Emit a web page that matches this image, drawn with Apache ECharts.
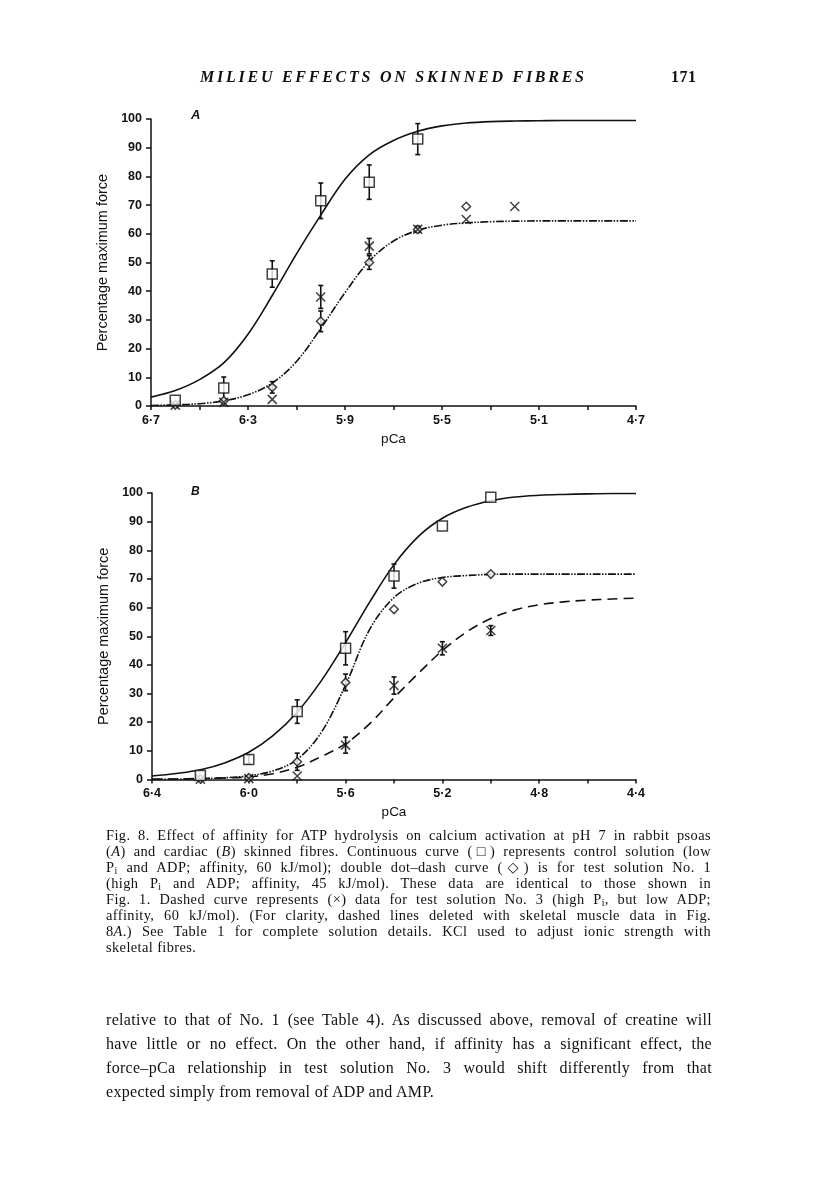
<!DOCTYPE html>
<html>
<head>
<meta charset="utf-8">
<script src="https://cdn.jsdelivr.net/npm/echarts@6/dist/echarts.min.js"></script>
<style>
  html, body { margin:0; padding:0; background:#fff; }
  #page { position:relative; width:816px; height:1183px; overflow:hidden; }
  #chart { position:absolute; left:0; top:0; width:816px; height:1183px; }
  .txt { position:absolute; color:#111; font-family:"Liberation Serif","DejaVu Serif",serif; }
  .hdr { top:68px; font-size:16px; font-weight:bold; font-style:italic; letter-spacing:2.75px; white-space:nowrap; }
  .num { top:68px; left:671px; font-size:16px; font-weight:bold; letter-spacing:0.5px; }
  .cap { left:106px; width:605px; font-size:14.4px; letter-spacing:0.4px; line-height:16px; top:827px; }
  .cap div, .body div { text-align:justify; text-align-last:justify; white-space:nowrap; }
  .cap div.last, .body div.last { text-align-last:left; }
  .body { left:106px; width:606px; font-size:16px; letter-spacing:0.3px; line-height:24px; top:1008px; }
  sub { font-size:70%; vertical-align:-2px; line-height:0; }
</style>
</head>
<body>
<div id="page">
  <div id="chart"></div>
  <div class="txt hdr" style="left:200px;">MILIEU EFFECTS ON SKINNED FIBRES</div>
  <div class="txt num">171</div>
  <div class="txt cap">
    <div>Fig. 8. Effect of affinity for ATP hydrolysis on calcium activation at pH 7 in rabbit psoas</div>
    <div>(<i>A</i>) and cardiac (<i>B</i>) skinned fibres. Continuous curve (&#9633;) represents control solution (low</div>
    <div>P<sub>i</sub> and ADP; affinity, 60 kJ/mol); double dot&ndash;dash curve (&#9671;) is for test solution No. 1</div>
    <div>(high P<sub>i</sub> and ADP; affinity, 45 kJ/mol). These data are identical to those shown in</div>
    <div>Fig. 1. Dashed curve represents (&times;) data for test solution No. 3 (high P<sub>i</sub>, but low ADP;</div>
    <div>affinity, 60 kJ/mol). (For clarity, dashed lines deleted with skeletal muscle data in Fig.</div>
    <div>8<i>A</i>.) See Table 1 for complete solution details. KCl used to adjust ionic strength with</div>
    <div class="last">skeletal fibres.</div>
  </div>
  <div class="txt body">
    <div>relative to that of No. 1 (see Table 4). As discussed above, removal of creatine will</div>
    <div>have little or no effect. On the other hand, if affinity has a significant effect, the</div>
    <div>force&ndash;pCa relationship in test solution No. 3 would shift differently from that</div>
    <div class="last">expected simply from removal of ADP and AMP.</div>
  </div>
</div>
<script>
// ---------- Tick labels ----------
const xTickLabelsA = ['6\u00b77', '6\u00b73', '5\u00b79', '5\u00b75', '5\u00b71', '4\u00b77'];
const xTickLabelsB = ['6\u00b74', '6\u00b70', '5\u00b76', '5\u00b72', '4\u00b78', '4\u00b74'];
const pcaStartA = 6.7;
const pcaStartB = 6.4;

// ---------- Panel A: fitted curves (pCa, % force) ----------
const curvePcaA = [6.7, 6.6, 6.5, 6.4, 6.3, 6.2, 6.1, 6.0, 5.9, 5.8, 5.7, 5.6, 5.5, 5.4, 5.3, 5.2, 5.1, 5.0, 4.9, 4.8, 4.7];
const controlCurveA = [3.1, 5.4, 9.2, 15.0, 25.0, 38.5, 53.0, 66.5, 79.0, 87.5, 92.5, 95.7, 97.6, 98.6, 99.1, 99.3, 99.4, 99.5, 99.5, 99.5, 99.5];
const diamondCurveA = [0.2, 0.4, 0.8, 1.8, 3.9, 8.0, 15.5, 27.0, 39.5, 50.5, 57.5, 61.2, 63.0, 63.8, 64.2, 64.4, 64.5, 64.5, 64.5, 64.5, 64.5];

// ---------- Panel A: data points ----------
const squarePcaA = [6.6, 6.4, 6.2, 6.0, 5.8, 5.6];
const squareValA = [2.0, 6.3, 46.0, 71.5, 78.0, 93.0];
const squareErrA = [0, 3.8, 4.6, 6.2, 6.0, 5.4];

const diamondPcaA = [6.6, 6.4, 6.2, 6.0, 5.8, 5.6, 5.4];
const diamondValA = [0.4, 1.8, 6.5, 29.5, 50.0, 61.5, 69.5];
const diamondErrA = [0, 0, 2.0, 3.6, 2.4, 1.0, 0];

const crossPcaA = [6.6, 6.4, 6.2, 6.0, 5.8, 5.6, 5.4, 5.2];
const crossValA = [0.3, 1.3, 2.3, 38.0, 55.7, 61.6, 65.0, 69.5];
const crossErrA = [0, 0, 0, 4.0, 2.7, 1.0, 0, 0];

// ---------- Panel B: fitted curves ----------
const curvePcaB = [6.4, 6.3, 6.2, 6.1, 6.0, 5.9, 5.8, 5.7, 5.6, 5.5, 5.4, 5.3, 5.2, 5.1, 5.0, 4.9, 4.8, 4.7, 4.6, 4.5, 4.4];
const controlCurveB = [1.2, 2.1, 3.4, 5.8, 9.5, 15.3, 23.5, 34.5, 47.8, 62.0, 75.0, 84.8, 91.2, 95.0, 97.3, 98.6, 99.2, 99.5, 99.7, 99.8, 99.8];
const diamondCurveB = [0.05, 0.1, 0.3, 0.6, 1.3, 3.0, 7.0, 16.5, 33.0, 52.5, 63.5, 68.5, 70.5, 71.2, 71.6, 71.7, 71.7, 71.7, 71.7, 71.7, 71.7];
const dashedCurveB = [0.1, 0.2, 0.35, 0.55, 0.9, 2.0, 4.3, 8.0, 12.5, 19.5, 28.5, 37.0, 45.0, 51.5, 56.2, 59.2, 61.0, 62.0, 62.6, 63.0, 63.3];

// ---------- Panel B: data points ----------
const squarePcaB = [6.2, 6.0, 5.8, 5.6, 5.4, 5.2, 5.0];
const squareValB = [1.4, 7.0, 23.7, 45.8, 71.0, 88.5, 98.5];
const squareErrB = [0, 1.5, 4.1, 5.8, 4.2, 0, 0];

const diamondPcaB = [6.2, 6.0, 5.8, 5.6, 5.4, 5.2, 5.0];
const diamondValB = [0.2, 0.6, 6.2, 33.9, 59.4, 69.0, 71.7];
const diamondErrB = [0, 0, 3.0, 2.9, 0, 0, 0];

const crossPcaB = [6.2, 6.0, 5.8, 5.6, 5.4, 5.2, 5.0];
const crossValB = [0.1, 0.3, 1.2, 12.0, 32.8, 45.8, 52.0];
const crossErrB = [0, 0, 0, 2.8, 3.0, 2.3, 1.7];

const yTicks = [0, 10, 20, 30, 40, 50, 60, 70, 80, 90, 100];

// ---------- helpers ----------
function toU(p, start) { return Math.round((start - p) * 10 * 1000) / 1000; }
function pairs(ps, vs, start) { return ps.map((p, i) => [toU(p, start), vs[i]]); }
function errs(ps, vs, es, start) {
  const out = [];
  ps.forEach((p, i) => { if (es[i] > 0) out.push([toU(p, start), vs[i] - es[i], vs[i] + es[i]]); });
  return out;
}
function errItem(params, api) {
  const x = api.value(0);
  const lo = api.coord([x, api.value(1)]);
  const hi = api.coord([x, api.value(2)]);
  const w = 2.5;
  const st = { stroke: '#111', lineWidth: 1.6 };
  return { type: 'group', children: [
    { type: 'line', shape: { x1: lo[0], y1: lo[1], x2: hi[0], y2: hi[1] }, style: st },
    { type: 'line', shape: { x1: hi[0] - w, y1: hi[1], x2: hi[0] + w, y2: hi[1] }, style: st },
    { type: 'line', shape: { x1: lo[0] - w, y1: lo[1], x2: lo[0] + w, y2: lo[1] }, style: st }
  ]};
}

const SANS = 'Liberation Sans, Arial, sans-serif';
function xAxisDef(idx, labels) {
  return {
    type: 'value', gridIndex: idx, min: 0, max: 20, interval: 2,
    axisLine: { show: true, onZero: false, lineStyle: { color: '#111', width: 1.5 } },
    axisTick: { show: true, inside: false, length: 4, lineStyle: { color: '#111', width: 1.5 } },
    axisLabel: { color: '#111', fontFamily: SANS, fontWeight: 'bold', fontSize: 12.5, margin: 8,
      showMinLabel: true, showMaxLabel: true,
      formatter: v => (Math.round(v) % 4 === 0 ? labels[Math.round(v) / 4] : '') },
    splitLine: { show: false },
    name: 'pCa', nameLocation: 'middle', nameGap: 26,
    nameTextStyle: { color: '#111', fontFamily: SANS, fontSize: 13.5 }
  };
}
function yAxisDef(idx) {
  return {
    type: 'value', gridIndex: idx, min: yTicks[0], max: yTicks[yTicks.length - 1], interval: 10,
    axisLine: { show: true, lineStyle: { color: '#111', width: 1.5 } },
    axisTick: { show: true, inside: false, length: 5, lineStyle: { color: '#111', width: 1.5 } },
    axisLabel: { color: '#111', fontFamily: SANS, fontWeight: 'bold', fontSize: 12.5, margin: 9 },
    splitLine: { show: false },
    name: 'Percentage maximum force', nameLocation: 'middle', nameGap: 37, nameRotate: 90,
    nameTextStyle: { color: '#111', fontFamily: SANS, fontSize: 14.5 }
  };
}

const SQUARE = 'rect';
const DIAMOND = 'path://M5,0L10,5L5,10L0,5Z';
const CROSS = 'path://M0,0L10,10M10,0L0,10';
const hollow = { color: '#fff', borderColor: '#111', borderWidth: 1.5 };
const crossStyle = { color: 'transparent', borderColor: '#111', borderWidth: 1.5 };

function curve(idx, ps, vs, start, type) {
  return { type: 'line', xAxisIndex: idx, yAxisIndex: idx, data: pairs(ps, vs, start),
    smooth: 0.35, showSymbol: false, symbol: 'none', silent: true, z: 2,
    lineStyle: { color: '#111', width: 1.6, type: type } };
}
function points(idx, ps, vs, start, sym, size, style, z) {
  return { type: 'scatter', xAxisIndex: idx, yAxisIndex: idx, data: pairs(ps, vs, start),
    symbol: sym, symbolSize: size, itemStyle: style, z: z, silent: true };
}
function bars(idx, ps, vs, es, start) {
  return { type: 'custom', xAxisIndex: idx, yAxisIndex: idx, data: errs(ps, vs, es, start),
    renderItem: errItem, encode: { x: 0, y: [1, 2] }, z: 3, silent: true };
}

const dotDash = [8, 1.5, 1.5, 1.5, 1.5, 1.5];

const option = {
  animation: false,
  backgroundColor: 'transparent',
  title: [
    { text: 'A', left: 191, top: 109, padding: 0, textStyle: { fontFamily: SANS, fontStyle: 'italic', fontWeight: 'bold', fontSize: 13, color: '#111' } },
    { text: 'B', left: 191, top: 486, padding: 0, textStyle: { fontFamily: SANS, fontStyle: 'italic', fontWeight: 'bold', fontSize: 12, color: '#111' } }
  ],
  grid: [
    { left: 151, top: 119, width: 485, height: 287 },
    { left: 152, top: 493, width: 484, height: 286.5 }
  ],
  xAxis: [xAxisDef(0, xTickLabelsA), xAxisDef(1, xTickLabelsB)],
  yAxis: [yAxisDef(0), yAxisDef(1)],
  series: [
    curve(0, curvePcaA, controlCurveA, pcaStartA, 'solid'),
    curve(0, curvePcaA, diamondCurveA, pcaStartA, dotDash),
    bars(0, squarePcaA, squareValA, squareErrA, pcaStartA),
    bars(0, diamondPcaA, diamondValA, diamondErrA, pcaStartA),
    bars(0, crossPcaA, crossValA, crossErrA, pcaStartA),
    points(0, diamondPcaA, diamondValA, pcaStartA, DIAMOND, 8.5, hollow, 4),
    points(0, crossPcaA, crossValA, pcaStartA, CROSS, 9, crossStyle, 4),
    points(0, squarePcaA, squareValA, pcaStartA, SQUARE, 10, hollow, 5),

    curve(1, curvePcaB, controlCurveB, pcaStartB, 'solid'),
    curve(1, curvePcaB, diamondCurveB, pcaStartB, dotDash),
    curve(1, curvePcaB, dashedCurveB, pcaStartB, [10, 6]),
    bars(1, squarePcaB, squareValB, squareErrB, pcaStartB),
    bars(1, diamondPcaB, diamondValB, diamondErrB, pcaStartB),
    bars(1, crossPcaB, crossValB, crossErrB, pcaStartB),
    points(1, diamondPcaB, diamondValB, pcaStartB, DIAMOND, 8.5, hollow, 4),
    points(1, crossPcaB, crossValB, pcaStartB, CROSS, 9, crossStyle, 4),
    points(1, squarePcaB, squareValB, pcaStartB, SQUARE, 10, hollow, 5)
  ]
};

const chart = echarts.init(document.getElementById('chart'), null, { renderer: 'canvas' });
chart.setOption(option);
</script>
</body>
</html>
